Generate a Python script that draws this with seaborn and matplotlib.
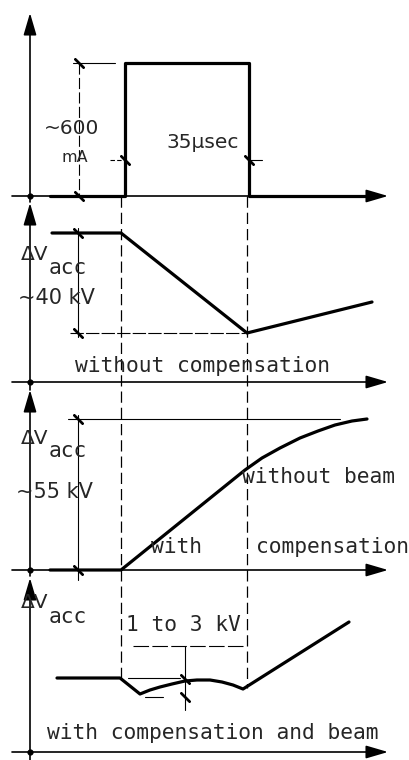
import matplotlib
matplotlib.use("Agg")
import numpy as np
import pandas as pd
import seaborn as sns
import matplotlib.pyplot as plt

# everything in pixel units (x right, y down)
pulse_x = [50, 125, 125, 249, 249, 372]
pulse_y = [196, 196, 63, 63, 196, 196]

nocomp_x = [52, 121, 247, 372]
nocomp_y = [233, 233, 333, 302]

nobeam_x = [50, 121, 245, 262, 280, 300, 318, 335, 352, 367]
nobeam_y = [570, 570, 470, 458, 448, 438, 431, 425, 421, 419]

beam_x = [57, 120, 140, 150, 160, 172, 185, 197, 210, 222, 233, 243, 349]
beam_y = [678, 678, 694, 690, 687, 684, 681, 680, 680, 682, 685, 689, 622]

axis_y = [196, 382, 570, 752]        # horizontal time axes
axis_top = [13, 203, 390, 578]       # tips of the vertical arrows
axis_bottom = [202, 390, 576, 760]
axis_x0, axis_x1 = 12, 388
vaxis_x = 30

marker_x = [121, 247]                # pulse edges carried down
marker_end = [678, 688]

fig = plt.figure(figsize=(4.1, 7.6), dpi=100)
ax = fig.add_axes([0, 0, 1, 1])
sns.set_style("white")
ax.set_xlim(0, 410)
ax.set_ylim(760, 0)
ax.axis("off")

thick = dict(color="black", lw=2.3, sort=False, estimator=None, legend=False)
sns.lineplot(x=pulse_x, y=pulse_y, ax=ax, **thick)
sns.lineplot(x=nocomp_x, y=nocomp_y, ax=ax, **thick)
sns.lineplot(x=nobeam_x, y=nobeam_y, ax=ax, **thick)
sns.lineplot(x=beam_x, y=beam_y, ax=ax, **thick)

arr = dict(arrowstyle="-|>,head_length=0.75,head_width=0.22", color="black",
           lw=1.2, mutation_scale=18, shrinkA=0, shrinkB=0)
for yy, top, bot in zip(axis_y, axis_top, axis_bottom):
    ax.annotate("", xy=(axis_x1, yy), xytext=(axis_x0, yy), arrowprops=arr)
    ax.annotate("", xy=(vaxis_x, top), xytext=(vaxis_x, bot), arrowprops=arr)
ax.scatter([vaxis_x] * 4, axis_y, s=12, color="black", zorder=5)

for mx, me in zip(marker_x, marker_end):
    ax.plot([mx, mx], [196, me], color="black", lw=0.9, ls=(0, (9, 4)))

# dimension lines
thin = dict(color="black", lw=0.8)
ax.plot([79, 79], [63, 196], ls=(0, (10, 3)), **thin)
ax.plot([73, 115], [63, 63], **thin)
ax.plot([110, 125], [160, 160], ls=(0, (4, 2)), **thin)
ax.plot([249, 262], [160, 160], **thin)
ax.plot([78, 78], [228, 337], **thin)
ax.plot([70, 245], [333, 333], ls=(0, (12, 2)), **thin)
ax.plot([68, 340], [419, 419], **thin)
ax.plot([78, 78], [415, 580], **thin)
ax.plot([133, 243], [646, 646], ls=(0, (14, 3)), **thin)
ax.plot([185, 185], [646, 710], **thin)
ax.plot([128, 180], [678, 678], **thin)
ax.plot([145, 163], [697, 697], **thin)

tick_x = [79, 79, 125, 249, 78, 78, 78, 78, 185, 185]
tick_y = [63, 196, 160, 160, 233, 333, 419, 570, 679, 697]
ax.scatter(tick_x, tick_y, marker=(2, 2, 45), s=70, color="black", lw=1.7, zorder=6)

mono = dict(family="DejaVu Sans Mono", fontsize=15.3, va="center", ha="left")
sans = dict(family="DejaVu Sans", va="center", ha="left")

ax.text(44, 128, "~600", fontsize=14.5, **sans)
ax.text(62, 157, "mA", fontsize=11.5, **sans)
ax.text(166, 143, "35\u00b5sec", fontsize=14.5, **sans)

for yv, ya in [(255, 268), (438, 451), (603, 617)]:
    ax.text(21, yv, "\u0394V", fontsize=14.5, **sans)
    ax.text(49, ya, "acc", **mono)
ax.text(18, 298, "~40 kV", fontsize=15, **sans)
ax.text(16, 492, "~55 kV", fontsize=15, **sans)

ax.text(75, 366, "without compensation", **mono)
ax.text(242, 477, "without beam", **mono)
ax.text(151, 547, "with", **mono)
ax.text(256, 547, "compensation", **mono)
ax.text(126, 625, "1 to 3 kV", **mono)
ax.text(47, 733, "with compensation and beam", **mono)

fig.savefig("out.png", dpi=100, facecolor="white")
